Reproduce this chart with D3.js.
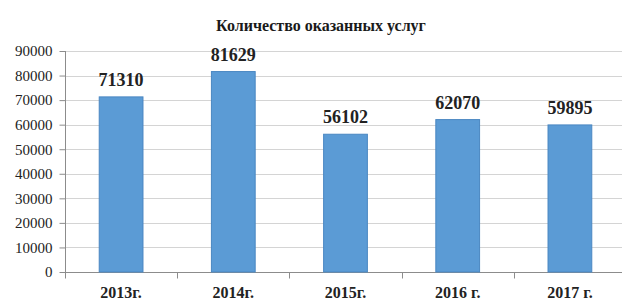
<!DOCTYPE html>
<html>
<head>
<meta charset="utf-8">
<script src="https://cdnjs.cloudflare.com/ajax/libs/d3/7.8.5/d3.min.js"></script>
<style>
  body { margin: 0; background: #fff; }
  svg { display: block; }
</style>
</head>
<body>
<div id="chart"></div>
<script>
var width = 622
var height = 306
var serif = "Liberation Serif, DejaVu Serif, serif"

var title = "Количество оказанных услуг"
var years = ["2013г.", "2014г.", "2015г.", "2016 г.", "2017 г."]
var services = [71310, 81629, 56102, 62070, 59895]
var yTicks = [0, 10000, 20000, 30000, 40000, 50000, 60000, 70000, 80000, 90000]

var margin = {top: 51, right: -4, bottom: 34, left: 65}

var svg = d3.select("#chart")
  .append("svg")
  .attr("width", width)
  .attr("height", height)
  .attr("font-family", serif)

var x = d3.scaleBand()
  .domain(years)
  .range([margin.left, width - margin.right])
  .paddingInner(0.61)
  .paddingOuter(0.305)

var y = d3.scaleLinear()
  .domain([0, 90000])
  .range([height - margin.bottom, margin.top])

// grid
svg.append("g")
  .selectAll("line")
  .data(yTicks.slice(1))
  .enter().append("line")
  .attr("x1", margin.left)
  .attr("x2", width)
  .attr("y1", function(d) { return Math.round(y(d)) + 0.5 })
  .attr("y2", function(d) { return Math.round(y(d)) + 0.5 })
  .attr("stroke", "#d4d4d4")
  .attr("stroke-width", 1)

// y axis
var yAxis = svg.append("g")
  .attr("transform", "translate(" + (margin.left + 0.5) + ",0)")
  .call(d3.axisLeft(y).tickValues(yTicks).tickFormat(d3.format("d")).tickSize(6).tickPadding(7))
yAxis.attr("font-family", serif).attr("font-size", 15)
yAxis.select(".domain").attr("stroke", "#8c8c8c").attr("d", "M0," + y(0) + "V" + y(90000))
yAxis.selectAll(".tick line").attr("stroke", "#8c8c8c")
yAxis.selectAll(".tick text")
  .attr("font-family", serif)
  .attr("font-size", 15)
  .attr("fill", "#222")

// x axis
var xAxis = svg.append("g")
  .attr("transform", "translate(0," + (Math.round(y(0)) + 0.5) + ")")
  .call(d3.axisBottom(x).tickSize(0).tickPadding(14))
xAxis.attr("font-family", serif).attr("font-size", 16)
xAxis.select(".domain").attr("stroke", "#8c8c8c").attr("d", "M" + margin.left + ",0H" + width)
xAxis.selectAll(".tick text")
  .attr("font-family", serif)
  .attr("font-size", 16)
  .attr("font-weight", "bold")
  .attr("fill", "#222")

// category separators below the axis
xAxis.selectAll(".sep")
  .data(years)
  .enter().append("line")
  .attr("class", "sep")
  .attr("x1", function(d) { return Math.round(x(d) - x.step() * x.paddingOuter()) + 0.5 })
  .attr("x2", function(d) { return Math.round(x(d) - x.step() * x.paddingOuter()) + 0.5 })
  .attr("y1", 0)
  .attr("y2", 6)
  .attr("stroke", "#8c8c8c")

// bars
svg.append("g")
  .selectAll("rect")
  .data(services)
  .enter().append("rect")
  .attr("x", function(d, i) { return x(years[i]) })
  .attr("y", function(d) { return y(d) })
  .attr("width", x.bandwidth())
  .attr("height", function(d) { return y(0) - y(d) })
  .attr("fill", "#5b9bd5")
  .attr("stroke", "#4a87c2")
  .attr("stroke-width", 1)

// value labels
svg.append("g")
  .selectAll("text")
  .data(services)
  .enter().append("text")
  .attr("x", function(d, i) { return x(years[i]) + x.bandwidth() / 2 })
  .attr("y", function(d) { return y(d) - 11 })
  .attr("text-anchor", "middle")
  .attr("font-family", serif)
  .attr("font-size", 18)
  .attr("font-weight", "bold")
  .attr("fill", "#222")
  .text(function(d) { return d })

// title
svg.append("text")
  .attr("x", 321)
  .attr("y", 31)
  .attr("text-anchor", "middle")
  .attr("font-family", serif)
  .attr("font-size", 16)
  .attr("font-weight", "bold")
  .attr("fill", "#1a1a1a")
  .text(title)
</script>
</body>
</html>
